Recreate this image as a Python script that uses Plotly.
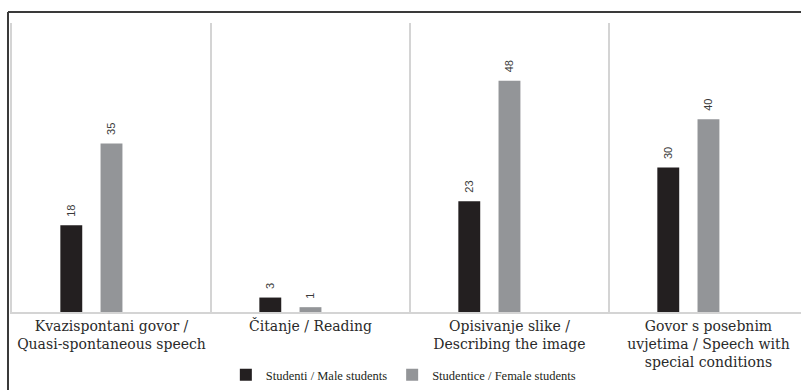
import plotly.graph_objects as go

categories = [
    "Kvazispontani govor /<br>Quasi-spontaneous speech",
    "Čitanje / Reading",
    "Opisivanje slike /<br>Describing the image",
    "Govor s posebnim<br>uvjetima / Speech with<br>special conditions",
]
male = [18, 3, 23, 30]
female = [35, 1, 48, 40]
series_names = ["Studenti / Male students", "Studentice / Female students"]

SERIF = "Times New Roman, serif"
TICK_FONT = dict(family="DejaVu Serif", size=14, color="#2a2a2a")
LABEL_FONT = dict(family="Arial, sans-serif", size=11, color="#3a3a3a")

fig = go.Figure()
fig.add_trace(go.Bar(
    x=categories, y=male, name=series_names[0],
    marker=dict(color="#231f20", line=dict(width=0)),
    width=0.11, offset=-0.257,
    text=male, texttemplate="\u2002%{text}", textposition="outside", textangle=-90,
    constraintext="none", textfont=LABEL_FONT, cliponaxis=False,
))
fig.add_trace(go.Bar(
    x=categories, y=female, name=series_names[1],
    marker=dict(color="#939598", line=dict(width=0)),
    width=0.11, offset=-0.055,
    text=female, texttemplate="\u2002%{text}", textposition="outside", textangle=-90,
    constraintext="none", textfont=LABEL_FONT, cliponaxis=False,
))

fig.update_layout(
    width=801, height=390,
    margin=dict(l=12, r=0, t=23, b=78),
    paper_bgcolor="white", plot_bgcolor="white",
    barmode="overlay",
    showlegend=True,
    legend=dict(orientation="h", x=0.496, xanchor="center", y=-0.218, yanchor="middle",
                font=dict(family=SERIF, size=12.5, color="#231f20"),
                itemwidth=30, tracegroupgap=0, bgcolor="rgba(0,0,0,0)"),
    xaxis=dict(type="category", range=[-0.5, 3.465], tickson="boundaries",
               showgrid=True, gridcolor="#d4d4d4", gridwidth=1.5,
               showline=True, linecolor="#d4d4d4", linewidth=1.5,
               ticks="", ticklen=0, tickfont=TICK_FONT),
    yaxis=dict(range=[0, 60], showgrid=False, showticklabels=False, zeroline=False,
               showline=True, linecolor="#d4d4d4", linewidth=1.5, ticks=""),
    shapes=[
        dict(type="line", xref="paper", yref="paper", x0=-0.00507, x1=-0.00507, y0=-0.3, y1=1.038,
             line=dict(color="#3a3a3a", width=2)),
        dict(type="line", xref="paper", yref="paper", x0=-0.00507, x1=1.02, y0=1.038, y1=1.038,
             line=dict(color="#3a3a3a", width=2)),
    ],
)

fig.write_html("out.html")
